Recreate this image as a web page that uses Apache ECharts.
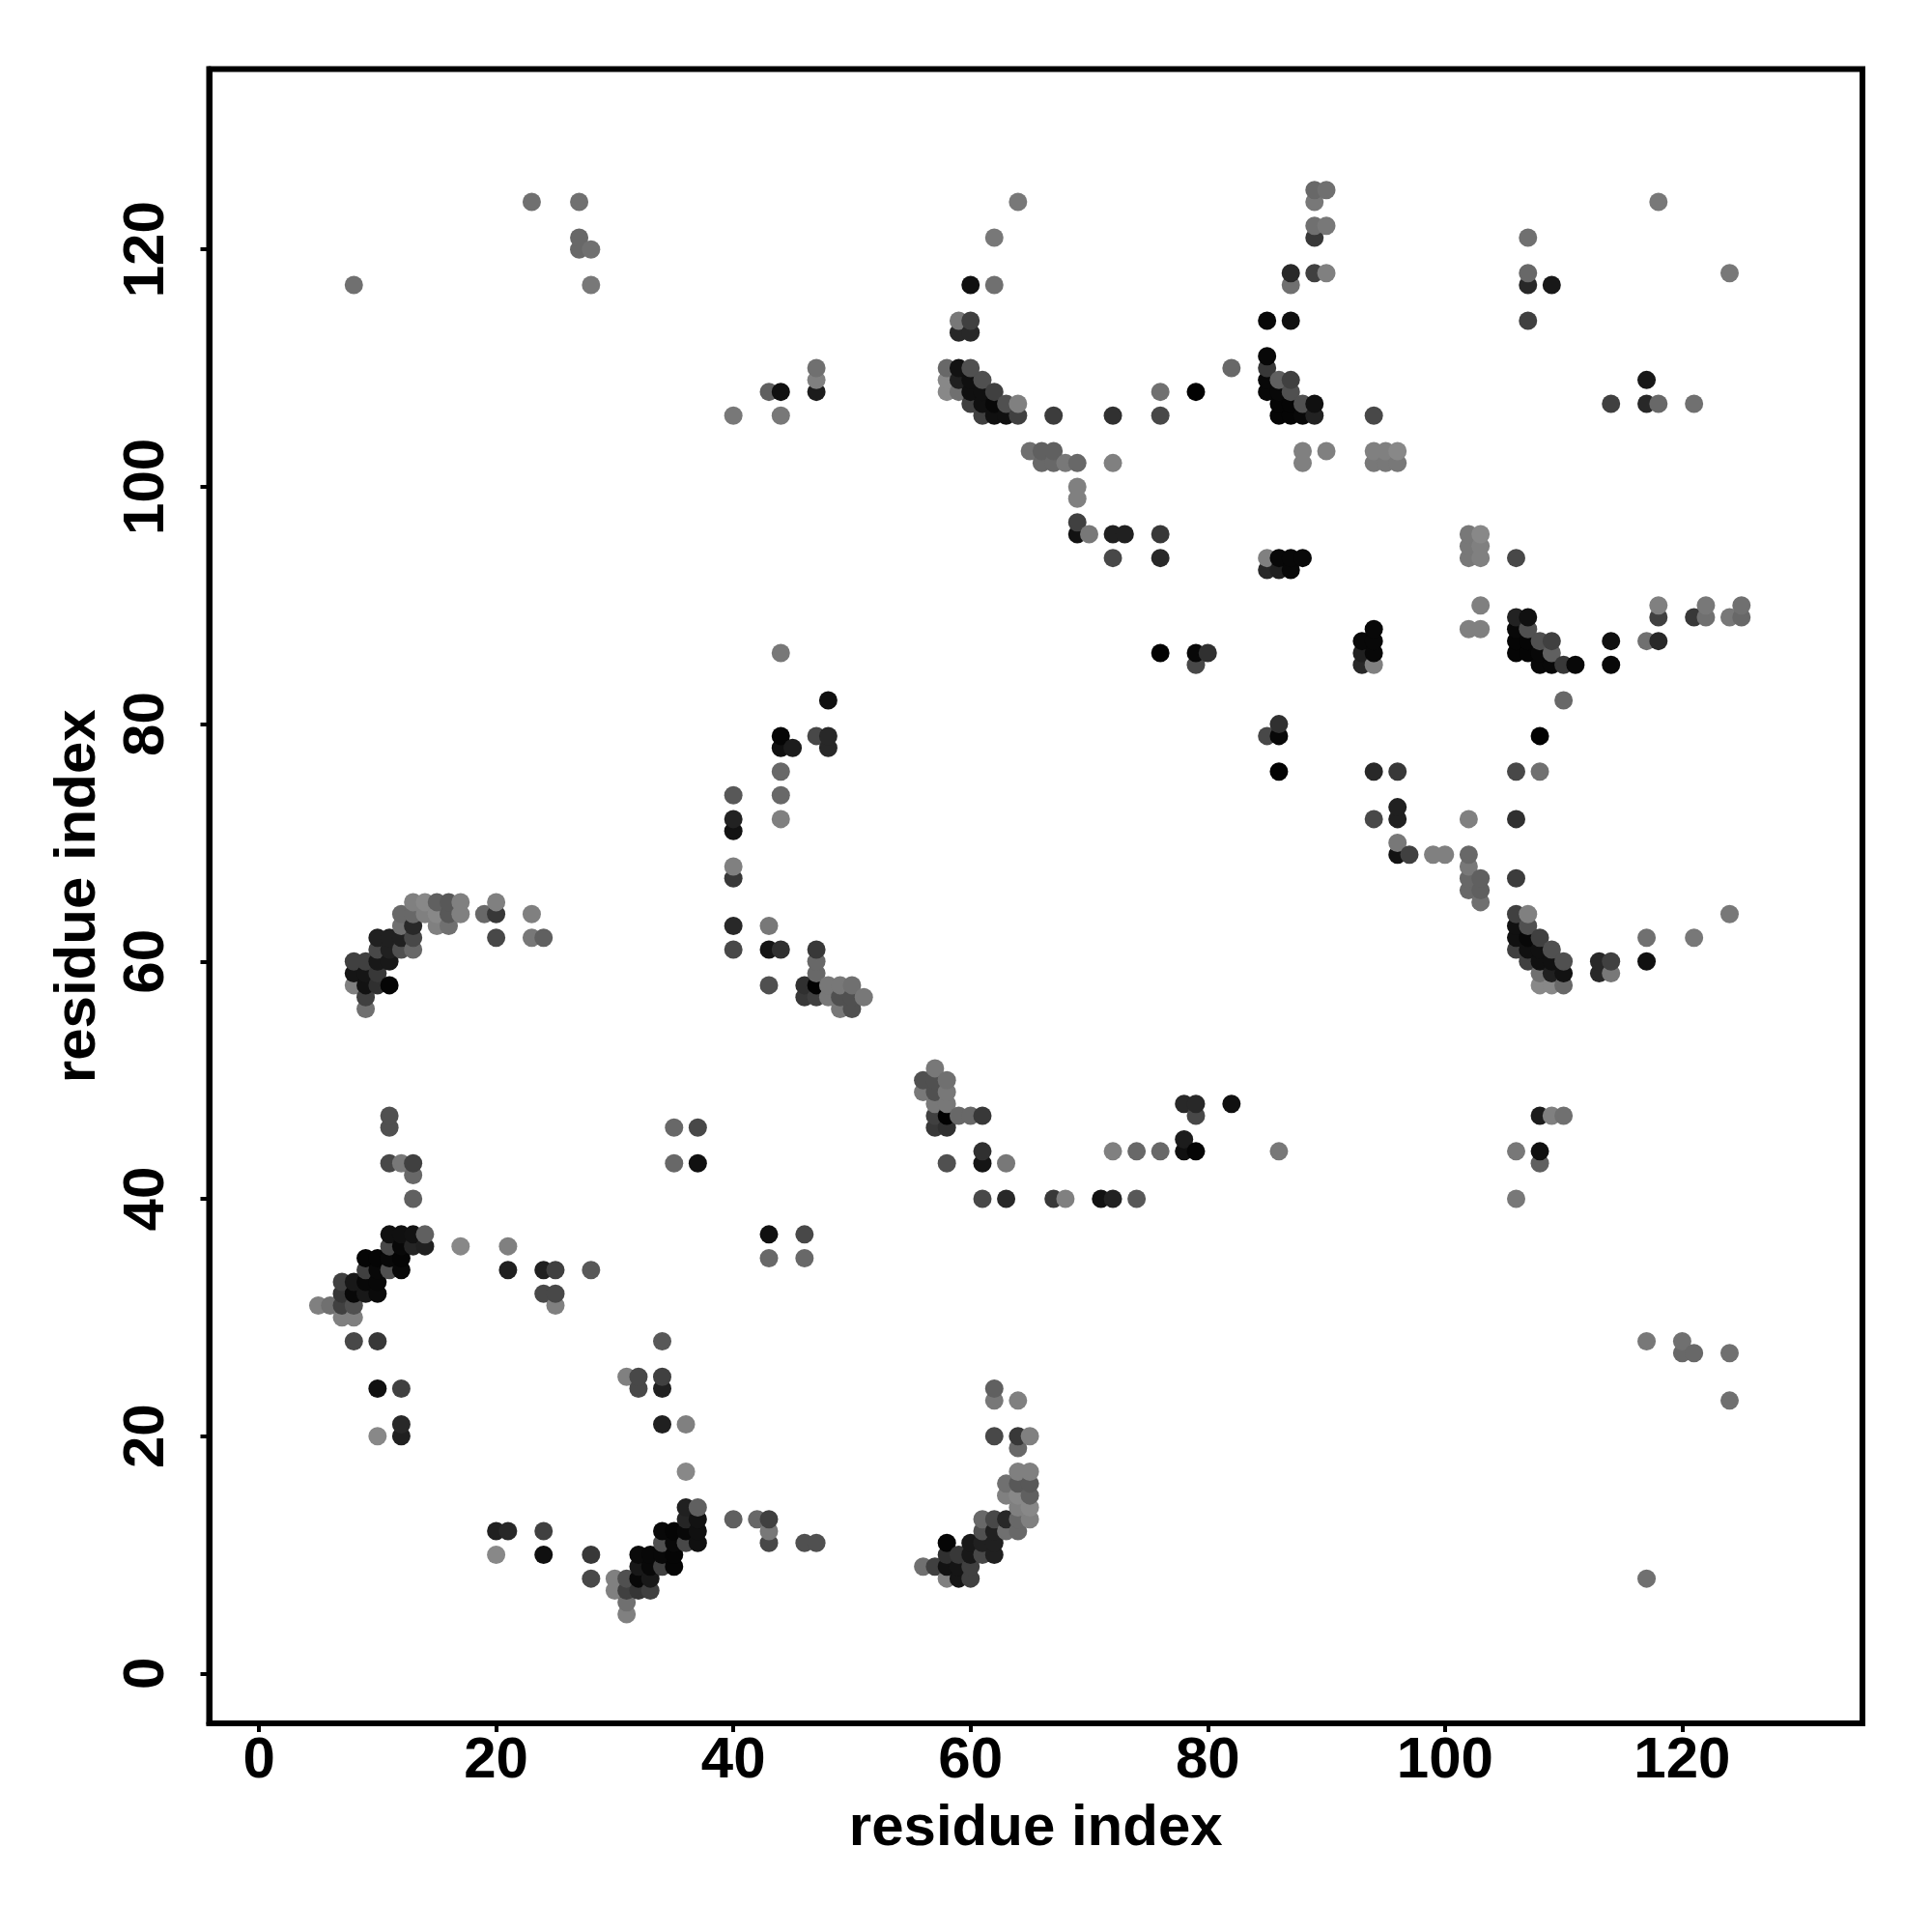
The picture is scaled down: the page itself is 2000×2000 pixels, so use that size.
<!DOCTYPE html>
<html><head><meta charset="utf-8">
<style>html,body{margin:0;padding:0;background:#fff}#c{width:2000px;height:2000px}</style>
<script src="https://cdn.jsdelivr.net/npm/echarts@6/dist/echarts.min.js"></script>
</head><body><div id="c"></div>
<script>
const axisTitle = 'residue index';
const tickValues = [0, 20, 40, 60, 80, 100, 120];
const axisMin = -4.2;
const axisMax = 135.2;

const residueA = [
 5, 6, 7,7,7,7,
 8,8,8,8,8,8,8,8,8,
 9,9,9,9,9,9,9,9,9,
 10,10,10,10,10,10,10,10,10,10,10,10,
 11,11,11,11,11,11,11,11,11,11,11,
 12,12,12,12,12,12,12,12,12,12,12,12,
 13,13,13,13,13,13,13,13,13,13,
 14,14,14,14, 15,15,15, 16,16,16, 17,17,17, 19, 20,20,20, 21,21,
 23,23,23, 24,24,24, 25,25,25, 27,27,27, 28,28,28,
 35,35, 37,37,
 40,40,40,40,40,40,40,40,
 43,43,43,43,
 44,44,44,44,44,44,44,44,44,
 45, 46,46,
 47,47,47,47,47,47,47,47,47,
 48,48,48,48,48, 49,49,49, 50,50,50, 51,
 58,58,58, 59,59,59,59,59,
 60,60,60,60,60,60,60,
 61,61,61,61, 62,62,62,62,62, 63,63, 64,64,64,
 65, 66,66, 67,67,67, 68,
 69,69,69,69,69, 70, 72,72,72,72, 73,
 76,76,76,76,76, 79,79,79, 80, 82,
 85,85,85,85,85,85,85,
 86,86,86,86,86,86,
 87,87,87,87,87,87,87,87,87,
 88,88,88,88,88,
 89,89,89,89,89,89,89,
 90,90,90,90,
 94,94,94, 95,95, 96,96,
 107,107,107,107, 109, 118
];
const residueB = [
 31, 31, 30,31,32,33,
 28,30,31,32,33,58,59,60,117,
 32,33,34,35,56,57,58,59,60,
 20,24,28,32,33,34,35,58,59,60,61,62,
 34,35,36,37,43,46,47,58,60,61,62,
 20,21,24,34,35,36,37,43,61,62,63,64,
 36,37,40,42,43,61,62,63,64,65,
 36,37,64,65, 63,64,65, 63,64,65, 36,64,65, 64, 62,64,65, 34,36,
 62,64,124, 32,34,62, 31,32,34, 120,121,124, 34,117,120,
 43,46, 43,46,
 61,63,67,68,71,72,74,106,
 58,61,63,108,
 61,72,74,76,78,79,86,106,108,
 78, 57,58,
 57,58,59,60,61,79,108,109,110,
 57,58,78,79,82, 56,57,58, 56,57,58, 57,
 108,109,110, 108,109,110,113,114,
 107,108,109,110,113,114,117,
 106,107,108,109, 106,107,108,117,121, 106,107, 106,107,124,
 103, 102,103, 102,103,106, 102,
 96,97,99,100,102, 96, 94,96,102,106, 96,
 86,94,96,106,108, 85,86,108, 86, 110,
 93,94,108,109,110,111,114,
 93,94,106,107,108,109,
 93,94,106,107,108,109,114,117,118,
 94,102,103,106,107,
 106,107,118,121,122,124,125,
 103,118,122,125,
 102,103,106, 102,103, 102,103,
 114,117,118,121, 117, 124
];
const contactShade = [
 0x80, 0x70, 0x80,0x40,0x35,0x40,
 0x48,0x80,0x50,0x08,0x18,0x80,0x15,0x40,0x70,
 0x18,0x08,0x40,0x05,0x70,0x40,0x12,0x15,0x40,
 0x88,0x10,0x38,0x0a,0x08,0x08,0x05,0x30,0x38,0x18,0x48,0x20,
 0x50,0x08,0x48,0x10,0x48,0x50,0x50,0x05,0x18,0x20,0x20,
 0x20,0x28,0x40,0x08,0x05,0x08,0x10,0x78,0x50,0x20,0x70,0x68,
 0x25,0x12,0x60,0x68,0x40,0x68,0x48,0x28,0x68,0x80,
 0x20,0x60,0x80,0x88, 0x80,0x88,0x60, 0x70,0x58,0x58, 0x88,0x80,0x80, 0x68, 0x48,0x38,0x80, 0x20,0x80,
 0x78,0x80,0x70, 0x48,0x20,0x60, 0x80,0x48,0x40, 0x68,0x68,0x70, 0x58,0x78,0x70,
 0x68,0x68, 0x10,0x48,
 0x48,0x28,0x38,0x80,0x12,0x22,0x58,0x78,
 0x50,0x15,0x78,0x60,
 0x30,0x80,0x68,0x68,0x10,0x05,0x78,0x78,0x10,
 0x1c, 0x38,0x30,
 0x40,0x02,0x68,0x68,0x38,0x48,0x1c,0x80,0x70,
 0x78,0x78,0x28,0x28,0x10, 0x78,0x50,0x78, 0x50,0x50,0x70, 0x78,
 0x88,0x88,0x68, 0x70,0x20,0x12,0x28,0x78,
 0x40,0x10,0x10,0x50,0x28,0x40,0x10,
 0x40,0x10,0x10,0x50, 0x10,0x08,0x40,0x70,0x78, 0x10,0x50, 0x40,0x80,0x78,
 0x70, 0x68,0x60, 0x68,0x60,0x3c, 0x78,
 0x12,0x40,0x80,0x80,0x68, 0x78, 0x48,0x20,0x80,0x30, 0x20,
 0x02,0x28,0x38,0x48,0x70, 0x48,0x08,0x02, 0x30, 0x68,
 0x28,0x80,0x08,0x08,0x38,0x08,0x08,
 0x20,0x08,0x05,0x05,0x08,0x60,
 0x08,0x08,0x05,0x05,0x50,0x40,0x10,0x70,0x28,
 0x08,0x80,0x80,0x08,0x50,
 0x22,0x10,0x40,0x38,0x70,0x78,0x68,
 0x80,0x80,0x78,0x70,
 0x78,0x80,0x48, 0x78,0x80, 0x78,0x88,
 0x40,0x28,0x68,0x70, 0x18, 0x78
];

const points = [];
residueA.forEach((a, k) => {
  const b = residueB[k], s = contactShade[k];
  points.push([a, b, s], [b, a, s]);
});
points.sort((p, q) => p[0] - q[0] || p[1] - q[1]);

const seriesData = points.map(p => ({
  value: [p[0], p[1]],
  itemStyle: { color: 'rgb(' + p[2] + ',' + p[2] + ',' + p[2] + ')', opacity: 1 }
}));

const fontFamily = '"Liberation Sans", Arial, sans-serif';
const baseAxis = {
  type: 'value', min: axisMin, max: axisMax,
  name: axisTitle, nameLocation: 'middle',
  nameTextStyle: { fontFamily, fontWeight: 'bold', fontSize: 60, color: '#000' },
  splitLine: { show: false },
  axisLine: { show: true, onZero: false, lineStyle: { color: '#000', width: 6 } },
  axisTick: { show: true, inside: false, length: 9, customValues: tickValues, lineStyle: { color: '#000', width: 4 } }
};

const chart = echarts.init(document.getElementById('c'), null, { renderer: 'canvas', width: 2000, height: 2000 });
chart.setOption({
  animation: false,
  backgroundColor: '#fff',
  grid: { show: true, left: 216.5, right: 72, top: 71.5, bottom: 216,
          borderColor: '#000', borderWidth: 6, backgroundColor: 'transparent', containLabel: false },
  xAxis: Object.assign({}, baseAxis, {
    nameGap: 79,
    axisLabel: { customValues: tickValues, fontFamily, fontWeight: 'bold', fontSize: 60, color: '#000', margin: 9, hideOverlap: false }
  }),
  yAxis: Object.assign({}, baseAxis, {
    nameGap: 105,
    axisLabel: { customValues: tickValues, rotate: 90, fontFamily, fontWeight: 'bold', fontSize: 60, color: '#000', margin: 34, hideOverlap: false }
  }),
  series: [{
    type: 'scatter', symbol: 'circle', symbolSize: 19,
    data: seriesData, clip: false, large: false, progressive: 0,
    emphasis: { disabled: true }, silent: true
  }]
});
</script></body></html>
